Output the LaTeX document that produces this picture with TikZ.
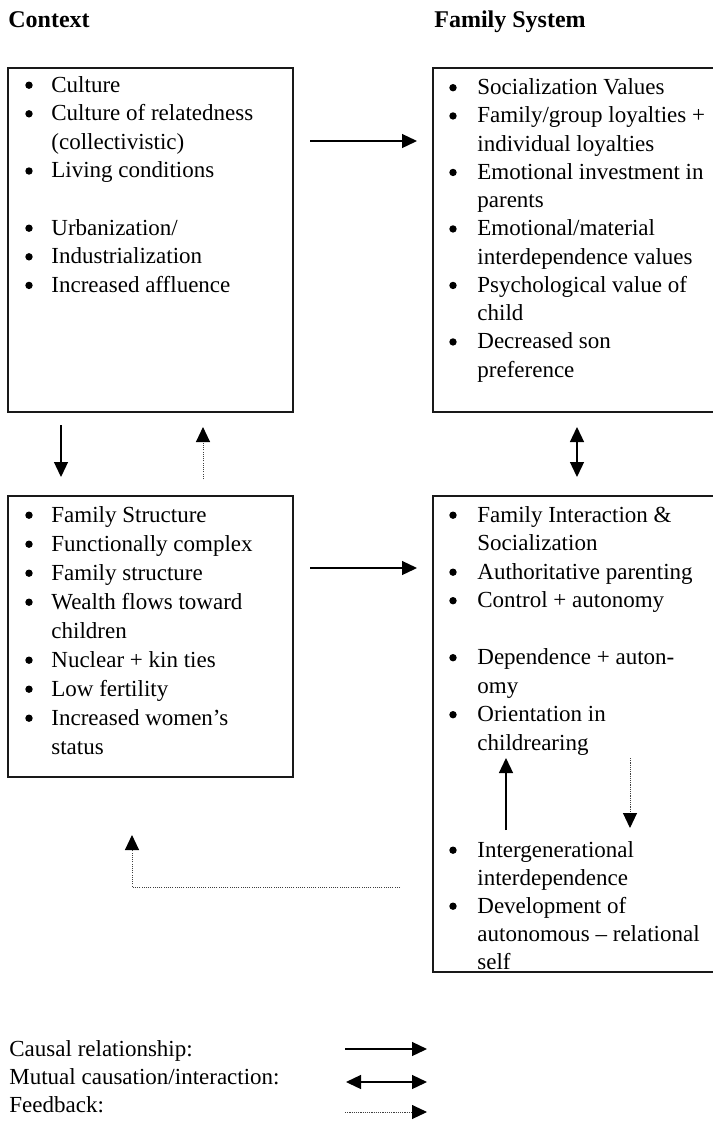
\documentclass[tikz,border=0pt]{standalone}
\usepackage{fontspec}
\setmainfont{Liberation Serif}
\usetikzlibrary{arrows.meta}
\begin{document}
\begin{tikzpicture}[x=0.5pt,y=-0.5pt,
  box/.style={draw=black!90,line width=0.85pt,rectangle,anchor=north west,inner sep=0pt,outer sep=0pt},
  txt/.style={anchor=base west,inner sep=0pt,font=\fontsize{11.5}{14}\selectfont},
  bul/.style={circle,fill=black,inner sep=0pt,minimum size=3.7pt,yshift=3.4pt},
  head/.style={anchor=base west,inner sep=0pt,font=\fontsize{12}{14}\selectfont\bfseries},
  tip/.style={-{Triangle[length=7.5pt,width=7pt,color=black]}},
  conn/.style={line width=0.65pt,tip},
  both/.style={line width=0.65pt,{Triangle[length=7.5pt,width=7pt]}-{Triangle[length=7.5pt,width=7pt]}},
  fb/.style={line width=0.5pt,dash pattern=on 0.55pt off 0.55pt,draw=black!75,tip}]
\useasboundingbox (0,0) rectangle (713,1121);
% headings
\node[head] (hctx) at (8,27) {Context};
\node[head] (hfam) at (434,27) {Family System};
% boxes
\node[box,minimum width=142.5pt,minimum height=172pt] (ctx) at (8,68) {};
\node[box,minimum width=142pt,minimum height=172pt] (fam) at (433,68) {};
\node[box,minimum width=142.5pt,minimum height=140.5pt] (str) at (8,496) {};
\node[box,minimum width=142pt,minimum height=238pt] (int) at (433,496) {};
% box 1
\node[bul] (a1) at (29,92) {}; \node[txt] (ta1) at (51,92) {Culture};
\node[bul] (a2) at (29,120.6) {}; \node[txt] (ta2) at (51,120.6) {Culture of relatedness};
\node[txt] (ta3) at (51,149.2) {(collectivistic)};
\node[bul] (a4) at (29,177.8) {}; \node[txt] (ta4) at (51,177.8) {Living conditions};
\node[bul] (a5) at (29,235) {}; \node[txt] (ta5) at (51,235) {Urbanization/};
\node[bul] (a6) at (29,263.6) {}; \node[txt] (ta6) at (51,263.6) {Industrialization};
\node[bul] (a7) at (29,292.2) {}; \node[txt] (ta7) at (51,292.2) {Increased affluence};
% box 2
\node[bul] (b1) at (453,94.5) {}; \node[txt] (tb1) at (477,94.5) {Socialization Values};
\node[bul] (b2) at (453,122.75) {}; \node[txt] (tb2) at (477,122.75) {Family/group loyalties +};
\node[txt] (tb3) at (477,151) {individual loyalties};
\node[bul] (b4) at (453,179.25) {}; \node[txt] (tb4) at (477,179.25) {Emotional investment in};
\node[txt] (tb5) at (477,207.5) {parents};
\node[bul] (b6) at (453,235.75) {}; \node[txt] (tb6) at (477,235.75) {Emotional/material};
\node[txt] (tb7) at (477,264) {interdependence values};
\node[bul] (b8) at (453,292.25) {}; \node[txt] (tb8) at (477,292.25) {Psychological value of};
\node[txt] (tb9) at (477,320.5) {child};
\node[bul] (b10) at (453,348.75) {}; \node[txt] (tb10) at (477,348.75) {Decreased son};
\node[txt] (tb11) at (477,377) {preference};
% box 3
\node[bul] (c1) at (29,522) {}; \node[txt] (tc1) at (51,522) {Family Structure};
\node[bul] (c2) at (29,551) {}; \node[txt] (tc2) at (51,551) {Functionally complex};
\node[bul] (c3) at (29,580) {}; \node[txt] (tc3) at (51,580) {Family structure};
\node[bul] (c4) at (29,609) {}; \node[txt] (tc4) at (51,609) {Wealth flows toward};
\node[txt] (tc5) at (51,638) {children};
\node[bul] (c6) at (29,667) {}; \node[txt] (tc6) at (51,667) {Nuclear + kin ties};
\node[bul] (c7) at (29,696) {}; \node[txt] (tc7) at (51,696) {Low fertility};
\node[bul] (c8) at (29,725) {}; \node[txt] (tc8) at (51,725) {Increased women’s};
\node[txt] (tc9) at (51,754) {status};
% box 4
\node[bul] (d1) at (453,522) {}; \node[txt] (td1) at (477,522) {Family Interaction \&};
\node[txt] (td2) at (477,550.5) {Socialization};
\node[bul] (d3) at (453,579) {}; \node[txt] (td3) at (477,579) {Authoritative parenting};
\node[bul] (d4) at (453,607.5) {}; \node[txt] (td4) at (477,607.5) {Control + autonomy};
\node[bul] (d5) at (453,664.5) {}; \node[txt] (td5) at (477,664.5) {Dependence + auton-};
\node[txt] (td6) at (477,693) {omy};
\node[bul] (d7) at (453,721.5) {}; \node[txt] (td7) at (477,721.5) {Orientation in};
\node[txt] (td8) at (477,750) {childrearing};
\node[bul] (d9) at (453,857) {}; \node[txt] (td9) at (477,857) {Intergenerational};
\node[txt] (td10) at (477,885) {interdependence};
\node[bul] (d11) at (453,913) {}; \node[txt] (td11) at (477,913) {Development of};
\node[txt] (td12) at (477,941) {autonomous – relational};
\node[txt] (td13) at (477,969) {self};
% legend
\node[txt] (l1) at (9,1056) {Causal relationship:};
\node[txt] (l2) at (9,1084) {Mutual causation/interaction:};
\node[txt] (l3) at (9,1112) {Feedback:};
% arrow end points
\coordinate (p1s) at (310,141); \coordinate (p1e) at (417,141);
\coordinate (p2s) at (61,425); \coordinate (p2e) at (61,477);
\coordinate (p3s) at (203,479); \coordinate (p3e) at (203,427);
\coordinate (p4s) at (577,427); \coordinate (p4e) at (577,477);
\coordinate (p5s) at (310,568); \coordinate (p5e) at (417,568);
\coordinate (p6s) at (506,830); \coordinate (p6e) at (506,758);
\coordinate (p7s) at (630,758); \coordinate (p7e) at (630,828);
\coordinate (p8s) at (400,887); \coordinate (p8e) at (132,835);
\coordinate (q1s) at (345,1049); \coordinate (q1e) at (427,1049);
\coordinate (q2s) at (346,1082); \coordinate (q2e) at (427,1082);
\coordinate (q3s) at (345,1112); \coordinate (q3e) at (427,1112);
% connectors
\draw[conn] (p1s) -- (p1e);
\draw[conn] (p2s) -- (p2e);
\draw[fb] (p3s) -- (p3e);
\draw[both] (p4s) -- (p4e);
\draw[conn] (p5s) -- (p5e);
\draw[conn] (p6s) -- (p6e);
\draw[fb] (p7s) -- (p7e);
\draw[fb] (p8s) -| (p8e);
\draw[conn] (q1s) -- (q1e);
\draw[both] (q2s) -- (q2e);
\draw[fb] (q3s) -- (q3e);
\end{tikzpicture}
\end{document}
